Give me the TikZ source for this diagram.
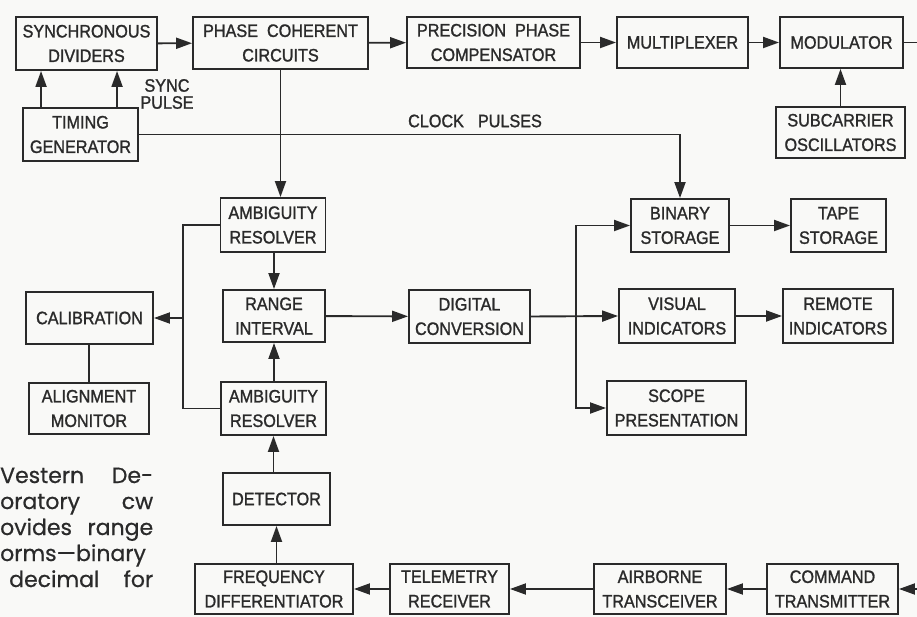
\documentclass[tikz,border=0pt]{standalone}
\usepackage{fontspec}
\setmainfont{Liberation Sans}
\newfontfamily\lblfont[FakeStretch=0.9,FakeBold=1.3]{Liberation Sans}
\newfontfamily\captfont[FakeBold=0.6]{Poppins}
\usetikzlibrary{arrows.meta}
\definecolor{ink}{RGB}{42,42,42}
\definecolor{paper}{RGB}{249,249,247}
\begin{document}
\begin{tikzpicture}[x=1pt,y=-1pt,
  box/.style={draw=ink, line width=1.9pt, rectangle, inner sep=0pt, align=center, text=ink,
    font=\lblfont\fontsize{18}{24.5}\selectfont},
  arr/.style={draw=ink, line width=1.9pt, -{Triangle[length=16pt,width=11pt]}},
  ln/.style={draw=ink, line width=1.9pt},
  lab/.style={text=ink, inner sep=0pt, align=center, font=\lblfont\fontsize{18}{17}\selectfont},
  capt/.style={text=ink, inner sep=0pt, anchor=base west, font=\captfont\fontsize{22}{26}\selectfont}]
\fill[paper] (0,0) rectangle (917,617);
\useasboundingbox (0,0) rectangle (917,617);

% top row
\node[box, minimum width=141pt, minimum height=53pt] (syncdiv) at (86.5,43.5) {SYNCHRONOUS\\DIVIDERS};
\node[box, minimum width=175pt, minimum height=52pt] (phase) at (280.5,43) {PHASE\ \ COHERENT\\CIRCUITS};
\node[box, minimum width=173pt, minimum height=51pt] (precision) at (493.5,42.5) {PRECISION\ \ PHASE\\COMPENSATOR};
\node[box, minimum width=131pt, minimum height=51pt] (mux) at (682.5,42.5) {MULTIPLEXER};
\node[box, minimum width=123pt, minimum height=51pt] (mod) at (841.5,42.5) {MODULATOR};
\node[box, minimum width=129pt, minimum height=51pt] (subcar) at (840.5,132.5) {SUBCARRIER\\OSCILLATORS};
\node[box, minimum width=115pt, minimum height=53pt] (timing) at (80.5,134.5) {TIMING\\GENERATOR};

% middle
\node[box, minimum width=105pt, minimum height=54pt] (amb1) at (273,225) {AMBIGUITY\\RESOLVER};
\node[box, minimum width=102pt, minimum height=52pt] (range) at (274,316) {RANGE\\INTERVAL};
\node[box, minimum width=105pt, minimum height=53pt] (amb2) at (273.5,408.5) {AMBIGUITY\\RESOLVER};
\node[box, minimum width=127pt, minimum height=52pt] (calib) at (89.5,318) {CALIBRATION};
\node[box, minimum width=120pt, minimum height=51pt] (align) at (89,408.5) {ALIGNMENT\\MONITOR};
\node[box, minimum width=121pt, minimum height=53pt] (digital) at (469.5,316.5) {DIGITAL\\CONVERSION};
\node[box, minimum width=98pt, minimum height=53pt] (binary) at (680,225.5) {BINARY\\STORAGE};
\node[box, minimum width=95pt, minimum height=53pt] (tape) at (838.5,225.5) {TAPE\\STORAGE};
\node[box, minimum width=116pt, minimum height=54pt] (visual) at (677,316) {VISUAL\\INDICATORS};
\node[box, minimum width=110pt, minimum height=54pt] (remote) at (838,316) {REMOTE\\INDICATORS};
\node[box, minimum width=139pt, minimum height=54pt] (scope) at (676.5,408) {SCOPE\\PRESENTATION};

% bottom
\node[box, minimum width=107pt, minimum height=52pt] (detector) at (276.5,499) {DETECTOR};
\node[box, minimum width=158pt, minimum height=50pt] (freq) at (274,589) {FREQUENCY\\DIFFERENTIATOR};
\node[box, minimum width=119pt, minimum height=50pt] (telem) at (449.5,589) {TELEMETRY\\RECEIVER};
\node[box, minimum width=132pt, minimum height=50pt] (airborne) at (660,589) {AIRBORNE\\TRANSCEIVER};
\node[box, minimum width=131pt, minimum height=50pt] (command) at (832.5,589) {COMMAND\\TRANSMITTER};

% labels
\node[lab] (sync) at (167,94) {SYNC\\PULSE};
\node[lab] (clk) at (475,121) {CLOCK\hspace{14pt}PULSES};

% coordinates
\coordinate (outR) at (917,42.5);
\coordinate (inR) at (917,589);
\coordinate (bl) at (183,318);
\coordinate (br) at (576,316);

% top row connectors
\draw[arr] (syncdiv) -- (phase);
\draw[arr] (phase) -- (precision);
\draw[arr] (precision) -- (mux);
\draw[arr] (mux) -- (mod);
\draw[ln] (mod.east) -- (outR);
\draw[arr] (subcar.north) -- (subcar.north |- mod.south);
\draw[arr] ([xshift=19pt]timing.north west) -- ([xshift=19pt]timing.north west |- syncdiv.south);
\draw[arr] ([xshift=95pt]timing.north west) -- ([xshift=95pt]timing.north west |- syncdiv.south);
\draw[arr] (timing.east) -| (binary.north);
\draw[arr] (phase.south) -- (phase.south |- amb1.north);

% left column
\draw[arr] (amb1.south -| range.north) -- (range.north);
\draw[arr] (amb2.north -| range.south) -- (range.south);
\draw[arr] (detector.north -| amb2.south) -- (amb2.south);
\draw[arr] (freq.north -| detector.south) -- (detector.south);
\draw[ln] (amb1.west) -| (bl) |- (amb2.west);
\draw[arr] (bl) -- (calib.east);
\draw[ln] (calib.south -| align.north) -- (align.north);

% right side
\draw[arr] (range) -- (digital);
\draw[arr] (digital.east) -- (visual.west);
\draw[arr] (br) |- (binary.west);
\draw[arr] (br) |- (scope.west);
\draw[arr] (binary) -- (tape);
\draw[arr] (visual) -- (remote);

% bottom row
\draw[arr] (inR) -- (command.east);
\draw[arr] (command) -- (airborne);
\draw[arr] (airborne) -- (telem);
\draw[arr] (telem) -- (freq);

% caption fragment
\begin{scope}
\clip (0,440) rectangle (917,617);
\node[capt] (c1) at (0,483) {\makebox[153pt][s]{Vestern De-}};
\node[capt] (c2) at (0,509) {\makebox[153pt][s]{oratory cw}};
\node[capt] (c3) at (0,535) {\makebox[153pt][s]{ovides range}};
\node[capt] (c4) at (0,561) {\makebox[153pt][s]{orms—binary}};
\node[capt] (c5) at (9,587) {\makebox[144pt][s]{decimal for}};
\end{scope}
\end{tikzpicture}
\end{document}
